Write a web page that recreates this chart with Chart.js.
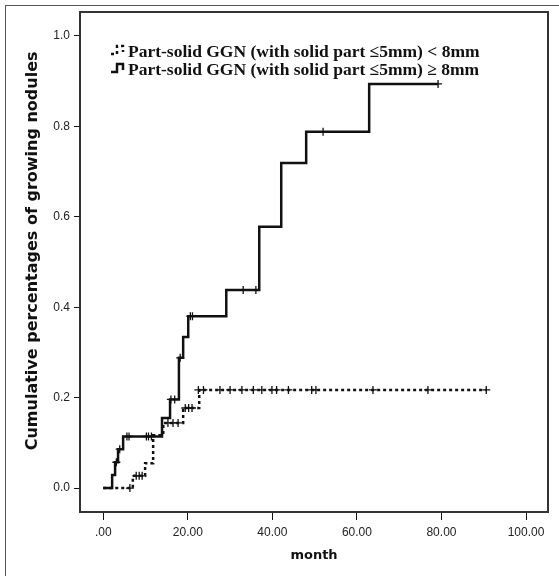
<!DOCTYPE html>
<html>
<head>
<meta charset="utf-8">
<script src="https://cdn.jsdelivr.net/npm/chart.js@4.4.1/dist/chart.umd.min.js"></script>
<style>
  html, body { margin: 0; padding: 0; background: #fff; }
  #wrap { position: relative; width: 559px; height: 576px; overflow: hidden; }
  #edge { position: absolute; left: 5px; top: 5px; width: 600px; height: 600px;
          border-left: 1px solid #555; border-top: 1px solid #555; }
  canvas { position: absolute; left: 0; top: 0; }
</style>
</head>
<body>
<div id="wrap"><div id="edge"></div><canvas id="chart" width="559" height="576"></canvas></div>
<script>
// Part-solid GGN < 8mm (dashed): event times (month) and cumulative values
const smallTimes  = [0, 7.0, 9.9, 11.8, 14.2, 18.9, 22.7, 90.6];
const smallValues = [0, 0.027, 0.055, 0.117, 0.144, 0.177, 0.217, 0.217];
// censored cases, < 8mm
const smallCensorTimes  = [6.3, 7.8, 8.5, 9.2, 15.3, 16.5, 17.7, 19.4, 20.2, 21.0,
                           22.5, 23.7, 27.6, 30.0, 32.8, 35.5, 37.5, 39.9, 41.0, 43.8, 49.3, 50.3, 63.8, 76.8, 90.6];
const smallCensorValues = [0, 0.027, 0.027, 0.027, 0.144, 0.144, 0.144, 0.177, 0.177, 0.177,
                           0.217, 0.217, 0.217, 0.217, 0.217, 0.217, 0.217, 0.217, 0.217, 0.217, 0.217, 0.217, 0.217, 0.217, 0.217];

// Part-solid GGN >= 8mm (solid)
const largeTimes  = [0, 2.1, 2.8, 3.5, 4.7, 13.9, 15.8, 17.9, 18.9, 20.1, 29.1, 36.9, 42.1, 48.0, 62.9, 79.2];
const largeValues = [0, 0.029, 0.057, 0.086, 0.114, 0.155, 0.196, 0.288, 0.334, 0.380, 0.438, 0.578, 0.719, 0.788, 0.894, 0.894];
const largeCensorTimes  = [3.1, 3.9, 5.6, 6.1, 10.2, 10.7, 11.4, 16.0, 16.9, 18.2, 20.6, 21.1, 33.1, 36.1, 52.0, 79.2];
const largeCensorValues = [0.057, 0.086, 0.114, 0.114, 0.114, 0.114, 0.114, 0.196, 0.196, 0.288, 0.380, 0.380, 0.438, 0.438, 0.788, 0.894];

const xTicks = [0, 20, 40, 60, 80, 100];
const xTickLabels = ['.00', '20.00', '40.00', '60.00', '80.00', '100.00'];
const yTicks = [0, 0.2, 0.4, 0.6, 0.8, 1.0];
const yTickLabels = ['0.0', '0.2', '0.4', '0.6', '0.8', '1.0'];

const labelSmall = 'Part-solid GGN (with solid part \u22645mm) < 8mm';
const labelLarge = 'Part-solid GGN (with solid part \u22645mm) \u2265 8mm';

const toPoints = (xs, ys) => xs.map((x, i) => ({ x: x, y: ys[i] }));

const tickFont = { family: '"Liberation Sans", Arial, sans-serif', size: 12 };
const xTitleFont = { family: '"DejaVu Sans", Verdana, sans-serif', size: 13, weight: 'bold' };
const yTitleFont = { family: '"DejaVu Sans", Verdana, sans-serif', size: 16, weight: 'bold' };

// frame around the plot plus the legend drawn inside it
const framePlugin = {
    id: 'frame',
    afterDatasetsDraw(chart) {
        const { ctx, chartArea: a } = chart;
        ctx.save();
        ctx.strokeStyle = '#333';
        ctx.lineWidth = 2;
        ctx.strokeRect(a.left, a.top, a.right - a.left, a.bottom - a.top);

        ctx.font = 'bold 17.5px "Liberation Serif", "Times New Roman", serif';
        ctx.fillStyle = '#111';
        ctx.textBaseline = 'alphabetic';
        [0, 1].forEach((di, row) => {
            const ds = chart.data.datasets[di];
            const y = a.top + 45 + row * 18;
            const x0 = a.left + 31;
            ctx.strokeStyle = '#111';
            ctx.lineWidth = 2.5;
            ctx.setLineDash(ds.borderDash || []);
            ctx.beginPath();
            ctx.moveTo(x0, y - 3);
            ctx.lineTo(x0 + 6, y - 3);
            ctx.lineTo(x0 + 6, y - 11);
            ctx.lineTo(x0 + 12, y - 11);
            ctx.lineTo(x0 + 12, y - 5);
            ctx.stroke();
            ctx.setLineDash([]);
            ctx.fillText(ds.label, a.left + 48, y);
        });
        ctx.restore();
    }
};

const ctx = document.getElementById('chart').getContext('2d');
const chart = new Chart(ctx, {
    type: 'line',
    data: {
        datasets: [
            {
                label: labelSmall,
                data: toPoints(smallTimes, smallValues),
                stepped: true,
                borderColor: '#111',
                borderWidth: 2.5,
                borderDash: [3, 3],
                pointRadius: 0,
                fill: false,
            },
            {
                label: labelLarge,
                data: toPoints(largeTimes, largeValues),
                stepped: true,
                borderColor: '#111',
                borderWidth: 2.5,
                pointRadius: 0,
                fill: false,
            },
            {
                label: 'censored <8mm',
                data: toPoints(smallCensorTimes, smallCensorValues),
                showLine: false,
                pointStyle: 'cross',
                pointRadius: 4,
                borderColor: '#111',
                pointBorderWidth: 1.3,
            },
            {
                label: 'censored >=8mm',
                data: toPoints(largeCensorTimes, largeCensorValues),
                showLine: false,
                pointStyle: 'cross',
                pointRadius: 4,
                borderColor: '#111',
                pointBorderWidth: 1.3,
            }
        ]
    },
    options: {
        responsive: false,
        animation: false,
        layout: { padding: { top: 12, right: 11, left: 0, bottom: 0 } },
        plugins: {
            legend: { display: false },
            tooltip: { enabled: false },
        },
        scales: {
            x: {
                type: 'linear',
                min: -5.5,
                max: 105.2,
                afterBuildTicks: scale => { scale.ticks = xTicks.map(v => ({ value: v })); },
                afterFit: scale => { scale.height = 64; },
                grid: { drawOnChartArea: false, tickLength: 8, tickColor: '#111', tickWidth: 1 },
                border: { display: false },
                ticks: {
                    font: tickFont,
                    color: '#222',
                    padding: 5,
                    maxRotation: 0,
                    callback: (v, i) => xTickLabels[i],
                },
                title: {
                    display: true,
                    text: 'month',
                    font: xTitleFont,
                    color: '#111',
                    padding: { top: 0, bottom: 13 },
                },
            },
            y: {
                min: -0.053,
                max: 1.053,
                afterBuildTicks: scale => { scale.ticks = yTicks.map(v => ({ value: v })); },
                afterFit: scale => { scale.width = 80; },
                grid: { drawOnChartArea: false, tickLength: 6, tickColor: '#111', tickWidth: 1 },
                border: { display: false },
                ticks: {
                    font: tickFont,
                    color: '#222',
                    padding: 4,
                    callback: (v, i) => yTickLabels[i],
                },
                title: {
                    display: true,
                    // leading spaces nudge the rotated title up a little, as in the original
                    text: '    Cumulative percentages of growing nodules',
                    font: yTitleFont,
                    color: '#111',
                    padding: { top: 23, bottom: 0 },
                },
            }
        }
    },
    plugins: [framePlugin]
});
</script>
</body>
</html>
